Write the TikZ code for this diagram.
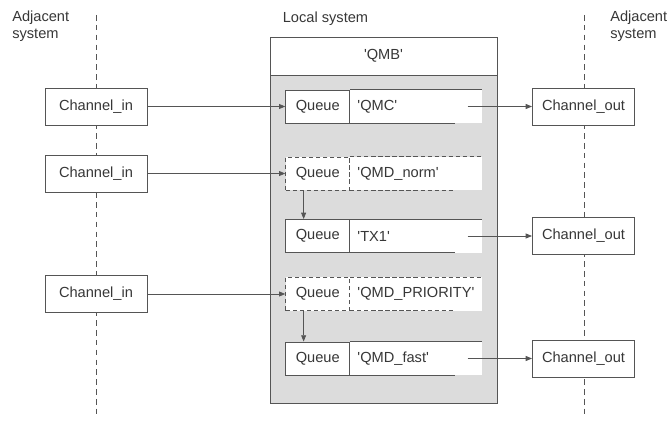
\documentclass[tikz,border=0pt]{standalone}
\usepackage{fontspec}
\setmainfont{Liberation Sans}
\usetikzlibrary{arrows.meta, positioning}
\definecolor{linegray}{RGB}{85,85,85}
\definecolor{textgray}{RGB}{55,55,55}
\definecolor{qmbgray}{RGB}{220,220,220}
\newcommand{\qtext}[1]{\textquotesingle#1\textquotesingle}

\begin{document}
\begin{tikzpicture}[
  x=0.025cm, y=-0.025cm,
  every node/.style={font=\fontsize{10.4}{12}\selectfont, text=textgray},
  chanbox/.style={rectangle, draw=linegray, line width=0.6pt, fill=white,
                  minimum width=2.55cm, minimum height=0.925cm, inner sep=0pt},
  qbox/.style={rectangle, draw=linegray, line width=0.6pt, fill=white,
               minimum width=1.6cm, minimum height=0.825cm, inner sep=0pt},
  qnamebox/.style={rectangle, fill=white, minimum height=0.825cm, text width=2.925cm,
                   inner xsep=0.175cm, inner ysep=0pt, align=left},
  qedge/.style={linegray, line width=0.6pt},
  qdash/.style={dash pattern=on 3pt off 2pt},
  arrow/.style={-{Triangle[length=4.5pt, width=3.5pt]}, linegray, line width=0.6pt},
  sysline/.style={linegray, line width=0.6pt, dash pattern=on 4pt off 3pt},
  heading/.style={align=left, anchor=north west, inner sep=0pt}
]
\useasboundingbox (0,0) rectangle (669,420);

% system boundaries
\coordinate (ltop) at (96,15);
\coordinate (lbot) at (96,418);
\coordinate (rtop) at (584,15);
\coordinate (rbot) at (584,418);
\draw[sysline] (ltop) -- (lbot);
\draw[sysline] (rtop) -- (rbot);

\node[heading] (adjl) at (12,11) {Adjacent\\system};
\node[heading] (adjr) at (610,11) {Adjacent\\system};
\node[inner sep=0pt] (local) at (325.5,19) {Local system};

% queue manager
\node[rectangle, draw=linegray, line width=0.6pt, fill=qmbgray,
      minimum width=5.675cm, minimum height=8.2cm, inner sep=0pt] (qmbbody) at (383.5,239) {};
\node[rectangle, draw=linegray, line width=0.6pt, fill=white,
      minimum width=5.675cm, minimum height=0.95cm, inner sep=0pt] (qmb) at (383.5,56) {\qtext{QMB}};

% channels
\node[chanbox] (cin1) at (96,106.5) {Channel\_in};
\node[chanbox] (cin2) at (96,173.5) {Channel\_in};
\node[chanbox] (cin3) at (96,294) {Channel\_in};
\node[chanbox] (cout1) at (583.5,106.5) {Channel\_out};
\node[chanbox] (cout2) at (583.5,236) {Channel\_out};
\node[chanbox] (cout3) at (583.5,358.5) {Channel\_out};

% queues
\node[qnamebox] (qmc) at (416,106.5) {\qtext{QMC}};
\node[qbox, left=0pt of qmc] (qmcq) {Queue};
\node[qnamebox] (norm) at (416,173.5) {\qtext{QMD\_norm}};
\node[qbox, qdash, left=0pt of norm] (normq) {Queue};
\node[qnamebox] (tx) at (416,236) {\qtext{TX1}};
\node[qbox, left=0pt of tx] (txq) {Queue};
\node[qnamebox] (prio) at (416,294) {\qtext{QMD\_PRIORITY}};
\node[qbox, qdash, left=0pt of prio] (prioq) {Queue};
\node[qnamebox] (fast) at (416,358.5) {\qtext{QMD\_fast}};
\node[qbox, left=0pt of fast] (fastq) {Queue};

\draw[qedge] (qmc.north west) -- (qmc.north east);
\draw[qedge] (qmc.south west) -- ([xshift=-19pt]qmc.south east);
\draw[qedge, qdash] (norm.north west) -- (norm.north east);
\draw[qedge, qdash] (norm.south west) -- ([xshift=-19pt]norm.south east);
\draw[qedge] (tx.north west) -- (tx.north east);
\draw[qedge] (tx.south west) -- ([xshift=-19pt]tx.south east);
\draw[qedge, qdash] (prio.north west) -- (prio.north east);
\draw[qedge, qdash] (prio.south west) -- ([xshift=-19pt]prio.south east);
\draw[qedge] (fast.north west) -- (fast.north east);
\draw[qedge] (fast.south west) -- ([xshift=-19pt]fast.south east);

% message flow
\draw[arrow] (cin1) -- (qmcq);
\draw[arrow] (cin2) -- (normq);
\draw[arrow] (cin3) -- (prioq);
\draw[arrow] ([xshift=13pt]normq.south west) -- ([xshift=13pt]txq.north west);
\draw[arrow] ([xshift=13pt]prioq.south west) -- ([xshift=13pt]fastq.north west);
\draw[arrow] ([xshift=-10pt]qmc.east) -- (cout1);
\draw[arrow] ([xshift=-10pt]tx.east) -- (cout2);
\draw[arrow] ([xshift=-10pt]fast.east) -- (cout3);
\end{tikzpicture}
\end{document}
